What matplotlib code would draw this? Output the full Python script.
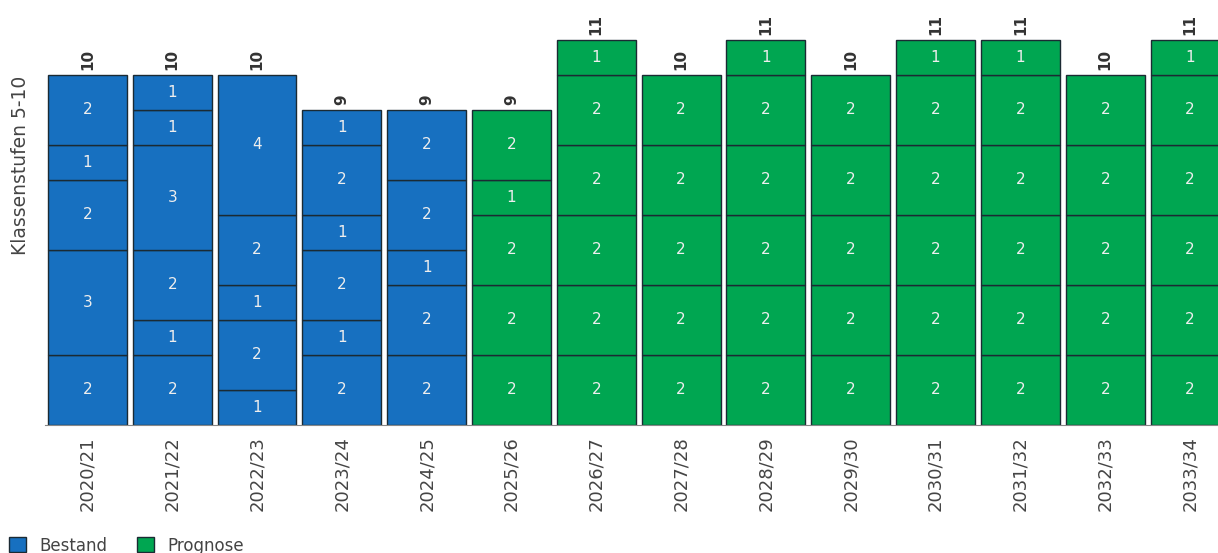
import numpy as np
import matplotlib
matplotlib.use("Agg")
import matplotlib.pyplot as plt
from matplotlib.patches import Patch

years = ["2020/21", "2021/22", "2022/23", "2023/24", "2024/25", "2025/26", "2026/27",
         "2027/28", "2028/29", "2029/30", "2030/31", "2031/32", "2032/33", "2033/34"]

# stack segments, bottom to top
segments = [
    [2, 3, 2, 1, 2],
    [2, 1, 2, 3, 1, 1],
    [1, 2, 1, 2, 4],
    [2, 1, 2, 1, 2, 1],
    [2, 2, 1, 2, 2],
    [2, 2, 2, 1, 2],
    [2, 2, 2, 2, 2, 1],
    [2, 2, 2, 2, 2],
    [2, 2, 2, 2, 2, 1],
    [2, 2, 2, 2, 2],
    [2, 2, 2, 2, 2, 1],
    [2, 2, 2, 2, 2, 1],
    [2, 2, 2, 2, 2],
    [2, 2, 2, 2, 2, 1],
]
# Bestand / Prognose
kind = ["B"] * 5 + ["P"] * 9

blue = "#1770C0"
green = "#00A651"

plt.rcParams['font.family'] = ['DejaVu Sans']

fig = plt.figure(figsize=(12.18, 5.53), dpi=100)
ax = fig.add_axes([45 / 1218, 128 / 553, 1173 / 1218, 425 / 553])

x = np.arange(len(years))
for i, segs in enumerate(segments):
    col = blue if kind[i] == "B" else green
    bottom = 0
    for v in segs:
        ax.bar(x[i], v, bottom=bottom, width=0.93, color=col,
               edgecolor="#1b2a33", linewidth=1)
        ax.text(x[i], bottom + v / 2, str(v), ha="center", va="center",
                color="#eeeeee", fontsize=11)
        bottom += v
    ax.text(x[i], bottom + 0.14, str(bottom), ha="center", va="bottom",
            rotation=90, fontsize=11, fontweight="bold", color="#333333")

ax.set_xlim(-0.5, 13.33)
ax.set_ylim(0, 12.14)
ax.set_xticks(x)
ax.set_xticklabels(years, rotation=90, fontsize=13, color="#444444")
ax.tick_params(axis="x", length=0, pad=8)
ax.set_yticks([])
for s in ["top", "right", "left"]:
    ax.spines[s].set_visible(False)
ax.spines["bottom"].set_color("#888888")

ax.set_ylabel("Klassenstufen 5-10", fontsize=13.5, color="#444444")
ax.yaxis.set_label_coords(-0.013, 0.61)

handles = [Patch(facecolor=blue, edgecolor="#1b2a33", label="Bestand"),
           Patch(facecolor=green, edgecolor="#1b2a33", label="Prognose")]
fig.legend(handles=handles, loc="lower left", bbox_to_anchor=(-0.005, -0.03),
           ncol=2, frameon=False, fontsize=12, handlelength=1.0,
           handleheight=1.0, columnspacing=1.8, handletextpad=0.8,
           labelcolor="#444444")

fig.savefig("out.png", dpi=100)
